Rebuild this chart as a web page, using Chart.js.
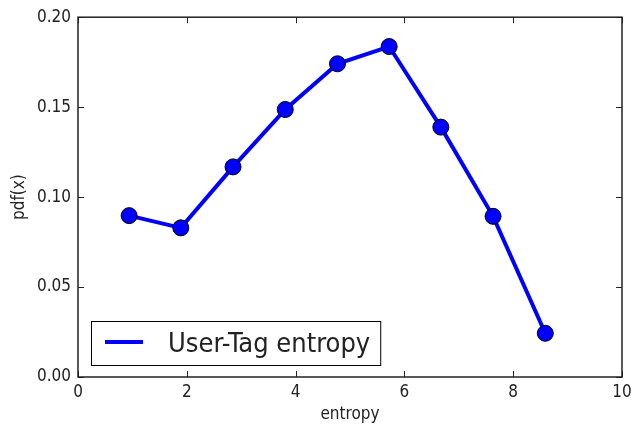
<!DOCTYPE html>
<html>
<head>
<meta charset="utf-8">
<script src="https://cdn.jsdelivr.net/npm/chart.js@4.4.1/dist/chart.umd.min.js"></script>
<style>
  html, body { margin: 0; padding: 0; background: #fff; }
  #wrap { width: 641px; height: 426px; position: relative; }
</style>
</head>
<body>
<div id="wrap"><canvas id="c"></canvas></div>
<script>
const entropyX = [0.94, 1.89, 2.85, 3.81, 4.77, 5.72, 6.67, 7.63, 8.59];
const pdfValues = [0.0897, 0.0829, 0.1168, 0.1487, 0.1741, 0.1837, 0.1389, 0.0893, 0.0243];
const xTickValues = [0, 2, 4, 6, 8, 10];
const yTickValues = [0, 0.05, 0.10, 0.15, 0.20];
const seriesLabel = 'User-Tag entropy';
const xTitle = 'entropy';
const yTitle = 'pdf(x)';

const FONT = '"DejaVu Sans Condensed", "DejaVu Sans", sans-serif';
const TEXT = '#222';

const points = entropyX.map((x, i) => ({ x: x, y: pdfValues[i] }));

const frameTicks = {
  id: 'frameTicks',
  afterDatasetsDraw(chart) {
    const { ctx, chartArea: a, scales } = chart;
    ctx.save();
    ctx.strokeStyle = '#222';
    ctx.lineWidth = 1;
    const L = 6;
    ctx.beginPath();
    xTickValues.forEach(v => {
      const px = Math.round(scales.x.getPixelForValue(v)) + 0.5;
      ctx.moveTo(px, a.bottom); ctx.lineTo(px, a.bottom - L);
      ctx.moveTo(px, a.top); ctx.lineTo(px, a.top + L);
    });
    yTickValues.forEach(v => {
      const py = Math.round(scales.y.getPixelForValue(v)) + 0.5;
      ctx.moveTo(a.left, py); ctx.lineTo(a.left + L, py);
      ctx.moveTo(a.right, py); ctx.lineTo(a.right - L, py);
    });
    ctx.stroke();
    ctx.lineWidth = 1.5;
    ctx.strokeRect(a.left, a.top, a.right - a.left, a.bottom - a.top);
    ctx.restore();
  },
  afterDraw(chart) {
    const { ctx, chartArea: a } = chart;
    const ds = chart.data.datasets[0];
    ctx.save();
    ctx.font = '27px ' + FONT;
    const tw = ctx.measureText(ds.label).width;
    const bx = a.left + 13, by = a.bottom - 56;
    const padL = 14, lineLen = 38, gap = 25, padR = 10, bh = 44;
    const bw = padL + lineLen + gap + tw + padR;
    ctx.fillStyle = '#fff';
    ctx.fillRect(bx, by, bw, bh);
    ctx.strokeStyle = '#000';
    ctx.lineWidth = 1;
    ctx.strokeRect(bx + 0.5, by + 0.5, bw, bh);
    ctx.strokeStyle = ds.borderColor;
    ctx.lineWidth = ds.borderWidth;
    ctx.beginPath();
    ctx.moveTo(bx + padL, by + 21);
    ctx.lineTo(bx + padL + lineLen, by + 21);
    ctx.stroke();
    ctx.fillStyle = TEXT;
    ctx.textBaseline = 'alphabetic';
    ctx.fillText(ds.label, bx + padL + lineLen + gap, by + 31);
    ctx.restore();
  }
};

new Chart(document.getElementById('c'), {
  type: 'line',
  data: {
    datasets: [{
      label: seriesLabel,
      data: points,
      borderColor: '#0000ff',
      borderWidth: 4,
      pointRadius: 8,
      pointHoverRadius: 8,
      pointBackgroundColor: '#0000ff',
      pointBorderColor: '#000',
      pointBorderWidth: 1,
      tension: 0,
      fill: false
    }]
  },
  options: {
    responsive: true,
    maintainAspectRatio: false,
    animation: false,
    events: [],
    layout: { padding: { top: 15, right: 19, left: 0, bottom: 0 } },
    plugins: { legend: { display: false }, tooltip: { enabled: false } },
    scales: {
      x: {
        type: 'linear', min: 0, max: 10,
        afterBuildTicks: s => { s.ticks = xTickValues.map(v => ({ value: v })); },
        afterFit: s => { s.height = 49; },
        grid: { display: false, drawTicks: false },
        border: { display: false },
        ticks: { font: { family: FONT, size: 17 }, color: TEXT, padding: 5, maxRotation: 0,
                 callback: v => String(v) },
        title: { display: true, text: xTitle, font: { family: FONT, size: 17 }, color: TEXT,
                 padding: { top: 0, bottom: 1 } }
      },
      y: {
        type: 'linear', min: 0, max: 0.2,
        afterBuildTicks: s => { s.ticks = yTickValues.map(v => ({ value: v })); },
        afterFit: s => { s.width = 78; },
        grid: { display: false, drawTicks: false },
        border: { display: false },
        ticks: { font: { family: FONT, size: 17 }, color: TEXT, padding: 7,
                 callback: v => Number(v).toFixed(2) },
        title: { display: true, text: yTitle, font: { family: FONT, size: 17 }, color: TEXT,
                 padding: { top: 9, bottom: 0 } }
      }
    }
  },
  plugins: [frameTicks]
});
</script>
</body>
</html>
